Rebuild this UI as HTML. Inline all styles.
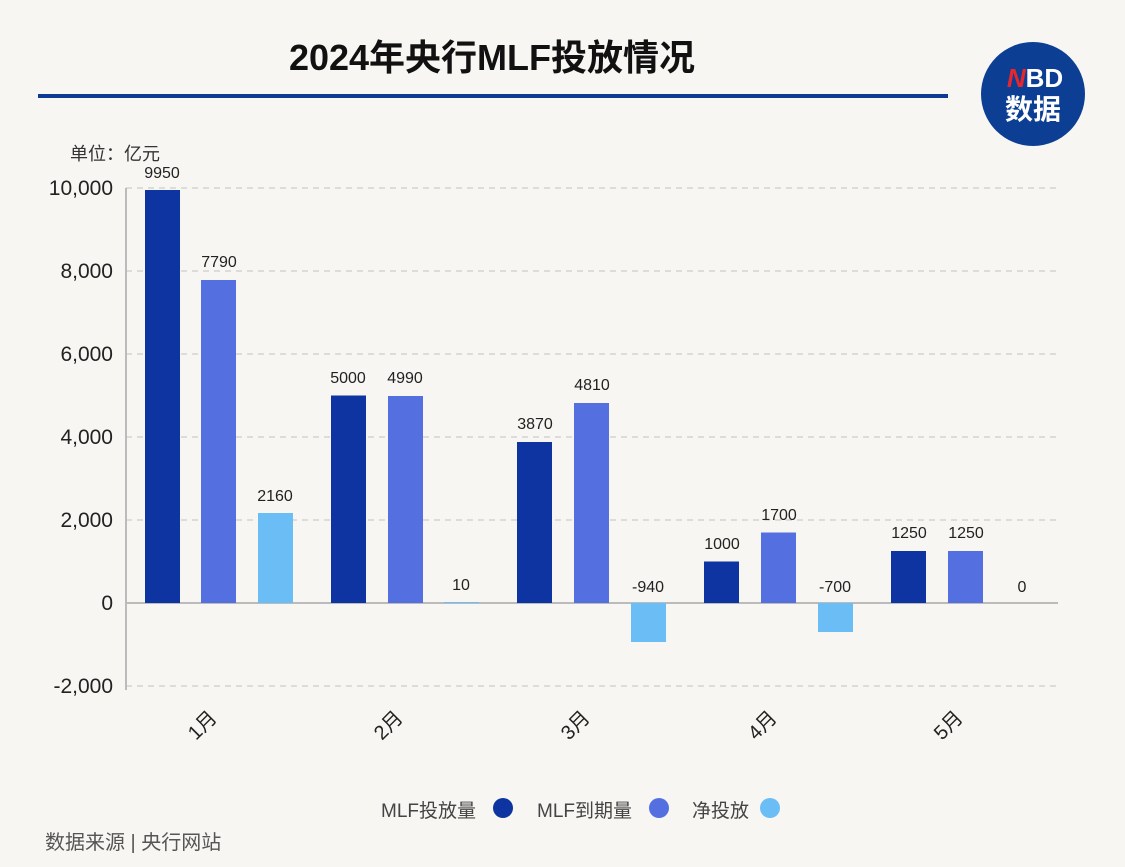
<!DOCTYPE html>
<html><head><meta charset="utf-8"><style>
body{margin:0;background:#f8f6f2;}
svg{display:block;font-family:"Liberation Sans","Noto Sans CJK SC",sans-serif;}
</style></head><body>
<svg width="1125" height="867" viewBox="0 0 1125 867">
<rect width="1125" height="867" fill="#f8f6f2"/>
<text x="492" y="70" text-anchor="middle" font-size="36" font-weight="bold" fill="#111">2024年央行MLF投放情况</text>
<rect x="38" y="94" width="910" height="4" fill="#0d3a94"/>
<circle cx="1033" cy="94" r="52" fill="#0c3f94"/>
<text x="1035" y="87" text-anchor="middle" font-size="26" font-weight="bold" fill="#fff"><tspan fill="#e8262c" font-style="italic">N</tspan>BD</text>
<text x="1033" y="119" text-anchor="middle" font-size="28" font-weight="bold" fill="#fff">数据</text>
<text x="70" y="160" font-size="18" fill="#333">单位：亿元</text>
<g stroke="#ccc" stroke-dasharray="6,5" stroke-width="1.3">
<line x1="126" y1="188" x2="1058" y2="188"/>
<line x1="126" y1="271" x2="1058" y2="271"/>
<line x1="126" y1="354" x2="1058" y2="354"/>
<line x1="126" y1="437" x2="1058" y2="437"/>
<line x1="126" y1="520" x2="1058" y2="520"/>
<line x1="126" y1="686" x2="1058" y2="686"/>
</g>
<line x1="126" y1="188" x2="126" y2="690" stroke="#bbb" stroke-width="2"/>
<line x1="126" y1="603" x2="1058" y2="603" stroke="#bbb" stroke-width="2"/>
<g font-size="21" fill="#222" text-anchor="end">
<text x="113" y="195">10,000</text><text x="113" y="278">8,000</text><text x="113" y="361">6,000</text>
<text x="113" y="444">4,000</text><text x="113" y="527">2,000</text><text x="113" y="610">0</text><text x="113" y="693">-2,000</text>
</g>
<g>
<rect x="145" y="190" width="35" height="413" fill="#0d34a0"/>
<rect x="201" y="280" width="35" height="323" fill="#5470e0"/>
<rect x="258" y="513" width="35" height="90" fill="#6bbdf5"/>
<rect x="331" y="395.5" width="35" height="207.5" fill="#0d34a0"/>
<rect x="388" y="396" width="35" height="207" fill="#5470e0"/>
<rect x="444" y="602" width="35" height="1" fill="#6bbdf5"/>
<rect x="517" y="442" width="35" height="161" fill="#0d34a0"/>
<rect x="574" y="403" width="35" height="200" fill="#5470e0"/>
<rect x="631" y="603" width="35" height="39" fill="#6bbdf5"/>
<rect x="704" y="561.5" width="35" height="41.5" fill="#0d34a0"/>
<rect x="761" y="532.5" width="35" height="70.5" fill="#5470e0"/>
<rect x="818" y="603" width="35" height="29" fill="#6bbdf5"/>
<rect x="891" y="551" width="35" height="52" fill="#0d34a0"/>
<rect x="948" y="551" width="35" height="52" fill="#5470e0"/>
</g>
<g font-size="16" fill="#222" text-anchor="middle">
<text x="162" y="178">9950</text><text x="219" y="267">7790</text><text x="275" y="501">2160</text>
<text x="348" y="383">5000</text><text x="405" y="383">4990</text><text x="461" y="590">10</text>
<text x="535" y="429">3870</text><text x="592" y="390">4810</text><text x="648" y="592">-940</text>
<text x="722" y="549">1000</text><text x="779" y="520">1700</text><text x="835" y="592">-700</text>
<text x="909" y="538">1250</text><text x="966" y="538">1250</text><text x="1022" y="592">0</text>
</g>
<g font-size="20" fill="#222" text-anchor="middle">
<text transform="translate(207,730) rotate(-45)">1月</text>
<text transform="translate(393,730) rotate(-45)">2月</text>
<text transform="translate(580,730) rotate(-45)">3月</text>
<text transform="translate(767,730) rotate(-45)">4月</text>
<text transform="translate(953,730) rotate(-45)">5月</text>
</g>
<g font-size="19" fill="#444">
<text x="381" y="817">MLF投放量</text><circle cx="503" cy="808" r="10" fill="#0d34a0"/>
<text x="537" y="817">MLF到期量</text><circle cx="659" cy="808" r="10" fill="#5470e0"/>
<text x="692" y="817">净投放</text><circle cx="770" cy="808" r="10" fill="#6bbdf5"/>
</g>
<text x="45" y="849" font-size="20" fill="#555">数据来源 | 央行网站</text>
</svg>
</body></html>
